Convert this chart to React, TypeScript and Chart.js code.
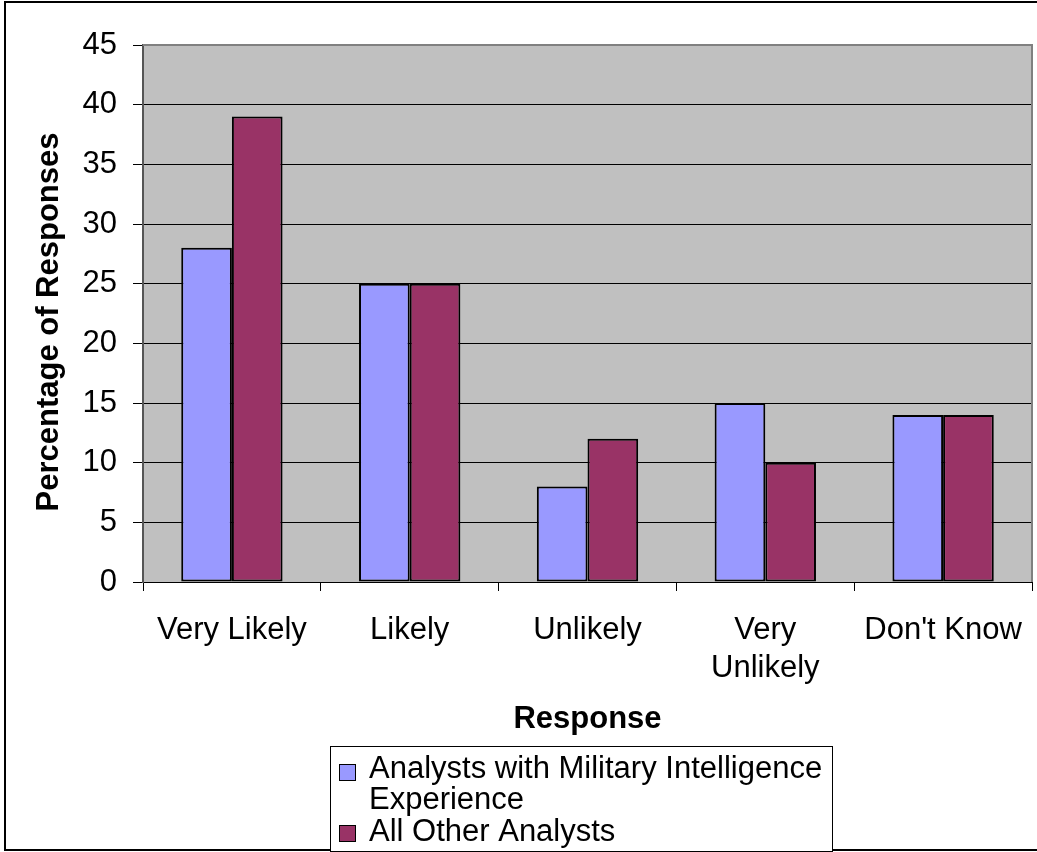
import React, { useEffect, useRef } from 'react';
import { Chart, registerables } from 'chart.js';

Chart.register(...registerables);

// ---- data ----
const categories: (string | string[])[] = ['Very Likely', 'Likely', 'Unlikely', ['Very', 'Unlikely'], "Don't Know"];
const militaryIntelValues = [28, 25, 8, 15, 14];
const otherAnalystsValues = [39, 25, 12, 10, 14];
const seriesNames = ['Analysts with Military Intelligence Experience', 'All Other Analysts'];
const legendLines: string[][] = [['Analysts with Military Intelligence', 'Experience'], ['All Other Analysts']];
const seriesColors = ['#9999FF', '#993366'];
const yMin = 0;
const yMax = 45;
const yStep = 5;
const yAxisTitle = 'Percentage of Responses';
const xAxisTitle = 'Response';

const FONT = "'Liberation Sans', Arial, Helvetica, sans-serif";
const FS = 31;

const decorPlugin = {
  id: 'decor',
  beforeDraw(chart: any) {
    const { ctx, chartArea: a, width, height } = chart;
    ctx.save();
    ctx.fillStyle = '#ffffff';
    ctx.fillRect(0, 0, width, height);
    ctx.fillStyle = '#C0C0C0';
    ctx.fillRect(a.left, a.top, a.right - a.left, a.bottom - a.top);
    ctx.restore();
  },
  afterDraw(chart: any) {
    const { ctx, chartArea: a } = chart;
    ctx.save();
    // plot area border (top & right)
    ctx.strokeStyle = '#808080';
    ctx.lineWidth = 2;
    ctx.beginPath();
    ctx.moveTo(a.left, a.top);
    ctx.lineTo(a.right, a.top);
    ctx.lineTo(a.right, a.bottom);
    ctx.stroke();

    // outer frame
    ctx.strokeStyle = '#000';
    ctx.lineWidth = 2;
    ctx.strokeRect(5, 2, 1045, 848);

    // y axis title
    ctx.save();
    ctx.translate(49, 322);
    ctx.rotate(-Math.PI / 2);
    ctx.font = `bold ${FS}px ${FONT}`;
    ctx.fillStyle = '#000';
    ctx.textAlign = 'center';
    ctx.textBaseline = 'middle';
    ctx.fillText(yAxisTitle, 0, 0);
    ctx.restore();

    // x axis title
    ctx.font = `bold ${FS}px ${FONT}`;
    ctx.fillStyle = '#000';
    ctx.textAlign = 'center';
    ctx.textBaseline = 'middle';
    ctx.fillText(xAxisTitle, (a.left + a.right) / 2, 719);

    // legend box
    ctx.fillStyle = '#fff';
    ctx.fillRect(330, 746, 502, 105);
    ctx.strokeStyle = '#000';
    ctx.lineWidth = 1;
    ctx.strokeRect(330.5, 746.5, 502, 105);

    const rows = [
      { swatchY: 764, lineYs: [769, 800] },
      { swatchY: 825, lineYs: [832] },
    ];
    ctx.font = `${FS}px ${FONT}`;
    ctx.textAlign = 'left';
    ctx.textBaseline = 'middle';
    legendLines.forEach((lines, i) => {
      const r = rows[i];
      ctx.fillStyle = seriesColors[i];
      ctx.fillRect(339, r.swatchY, 16, 16);
      ctx.strokeStyle = '#000';
      ctx.lineWidth = 1;
      ctx.strokeRect(339.5, r.swatchY + 0.5, 16, 16);
      ctx.fillStyle = '#000';
      lines.forEach((t, j) => ctx.fillText(t, 369, r.lineYs[j]));
    });
    ctx.restore();
  },
};

export default function App() {
  const canvasRef = useRef<HTMLCanvasElement | null>(null);

  useEffect(() => {
    if (!canvasRef.current) return;
    const chart = new Chart(canvasRef.current, {
      type: 'bar',
      data: {
        labels: categories,
        datasets: [
          {
            label: seriesNames[0],
            data: militaryIntelValues,
            backgroundColor: seriesColors[0],
            borderColor: '#000',
            borderWidth: 2,
            borderSkipped: false,
          },
          {
            label: seriesNames[1],
            data: otherAnalystsValues,
            backgroundColor: seriesColors[1],
            borderColor: '#000',
            borderWidth: 2,
            borderSkipped: false,
          },
        ],
      },
      options: {
        responsive: false,
        animation: false,
        devicePixelRatio: 1,
        layout: { padding: { left: 0, top: 45, right: 5, bottom: 0 } },
        datasets: { bar: { categoryPercentage: 0.57, barPercentage: 1 } },
        plugins: {
          legend: { display: false },
          tooltip: { enabled: false },
        },
        scales: {
          x: {
            grid: {
              display: true,
              drawOnChartArea: false,
              drawTicks: true,
              tickLength: 9,
              color: '#000',
              lineWidth: 1,
              offset: true,
            },
            border: { display: true, color: '#000', width: 1 },
            ticks: {
              color: '#000',
              font: { family: FONT, size: FS, lineHeight: 1.23 },
              padding: 20,
              maxRotation: 0,
              autoSkip: false,
            },
            afterFit: (s: any) => {
              s.height = 270;
              s.paddingLeft = 0;
              s.paddingRight = 0;
            },
          },
          y: {
            min: yMin,
            max: yMax,
            ticks: {
              stepSize: yStep,
              color: '#000',
              font: { family: FONT, size: FS },
              padding: 16,
            },
            grid: { color: '#000', lineWidth: 1, tickLength: 10, drawTicks: true },
            border: { display: true, color: '#555', width: 2 },
            afterFit: (s: any) => {
              s.width = 143;
              s.paddingTop = 0;
              s.paddingBottom = 0;
            },
          },
        },
      } as any,
      plugins: [decorPlugin],
    });
    return () => chart.destroy();
  }, []);

  return (
    <div style={{ position: 'absolute', left: 0, top: 0, width: 1037, height: 852 }}>
      <canvas ref={canvasRef} width={1037} height={852} />
    </div>
  );
}
